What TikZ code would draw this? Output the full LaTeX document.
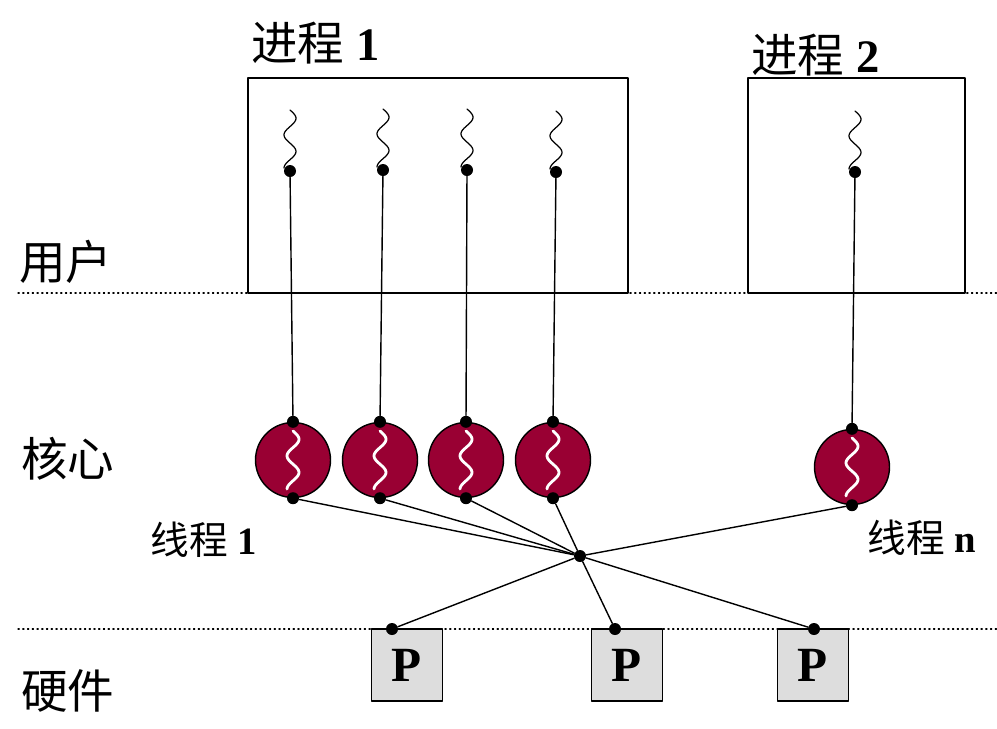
\documentclass[tikz,border=0pt]{standalone}
\usepackage{fontspec}
\setmainfont{Liberation Serif}
\newfontfamily\cjk{Noto Sans CJK SC}
\usetikzlibrary{arrows}
\definecolor{kred}{RGB}{153,0,51}
\definecolor{pgray}{RGB}{221,221,221}
\tikzset{
  dot/.style={circle,fill=black,inner sep=0pt,minimum size=0.24cm},
  kthread/.style={circle,draw=black,line width=0.8pt,fill=kred,minimum size=1.5cm,inner sep=0pt},
  cpu/.style={draw=black,line width=0.8pt,fill=pgray,minimum width=1.42cm,minimum height=1.44cm,inner sep=0pt,font=\bfseries\fontsize{28}{28}\selectfont},
  title/.style={anchor=west,inner sep=0pt,font=\fontsize{26.5}{26.5}\selectfont},
  layer/.style={anchor=west,inner sep=0pt,font=\cjk\fontsize{26.5}{26.5}\selectfont},
  tname/.style={anchor=west,inner sep=0pt,font=\fontsize{22}{22}\selectfont},
  sep/.style={dotted,line width=0.7pt}
}
\newcommand\wiggle[4]{\draw[#4] plot[domain=0:1,samples=40,smooth,variable=\t] ({#1+6*sin(630*\t)},{#2+#3*\t});}

\begin{document}
\begin{tikzpicture}[line cap=round,line join=round,x=0.02cm,y=-0.02cm]
\useasboundingbox (0,0) rectangle (997,728);
\draw[sep] (18,293) -- (997,293);
\draw[sep] (18,629) -- (997,629);
\draw[line width=0.8pt] (248,78) rectangle (628,293);
\draw[line width=0.8pt] (748,78) rectangle (965,293);
\node[title] (pr1) at (251,43) {{\cjk 进程} \textbf{1}};
\node[title] (pr2) at (751,55) {{\cjk 进程} \textbf{2}};
\node[layer] (user) at (19,262) {用户};
\node[layer] (kern) at (21,459) {核心};
\node[layer] (hw) at (21,691) {硬件};
\node[tname] (t1) at (150,540) {{\cjk 线程} \textbf{1}};
\node[tname] (tn) at (867,538) {{\cjk 线程} \textbf{n}};
% kernel threads
\node[dot] (hub) at (580,556) {};
\foreach \i/\x/\ky/\ux/\uy in {1/293/460/290/171, 2/380/460/383/170, 3/466/460/467/170, 4/553/460/556/172, 5/852/467/855/172} {
  \node[kthread] (k\i) at (\x,\ky) {};
  \wiggle{\x}{\ky-29}{58}{white,line width=1.6pt}
  \node[dot] (k\i t) at (k\i.north) {};
  \node[dot] (k\i b) at (k\i.south) {};
  \wiggle{\ux}{\uy-61}{58}{black,line width=0.7pt}
  \node[dot] (u\i) at (\ux,\uy) {};
  \draw[line width=0.8pt] (u\i) -- (k\i t);
  \draw[line width=0.8pt] (k\i b) -- (hub);
}
% processors
\node[cpu] (p1) at (407,665) {P};
\node[cpu] (p2) at (627,665) {P};
\node[cpu] (p3) at (813,665) {P};
\node[dot] (p1d) at (392,629) {};
\node[dot] (p2d) at (615,629) {};
\node[dot] (p3d) at (814,629) {};
\draw[line width=0.8pt] (hub) -- (p1d);
\draw[line width=0.8pt] (hub) -- (p2d);
\draw[line width=0.8pt] (hub) -- (p3d);
\end{tikzpicture}
\end{document}
